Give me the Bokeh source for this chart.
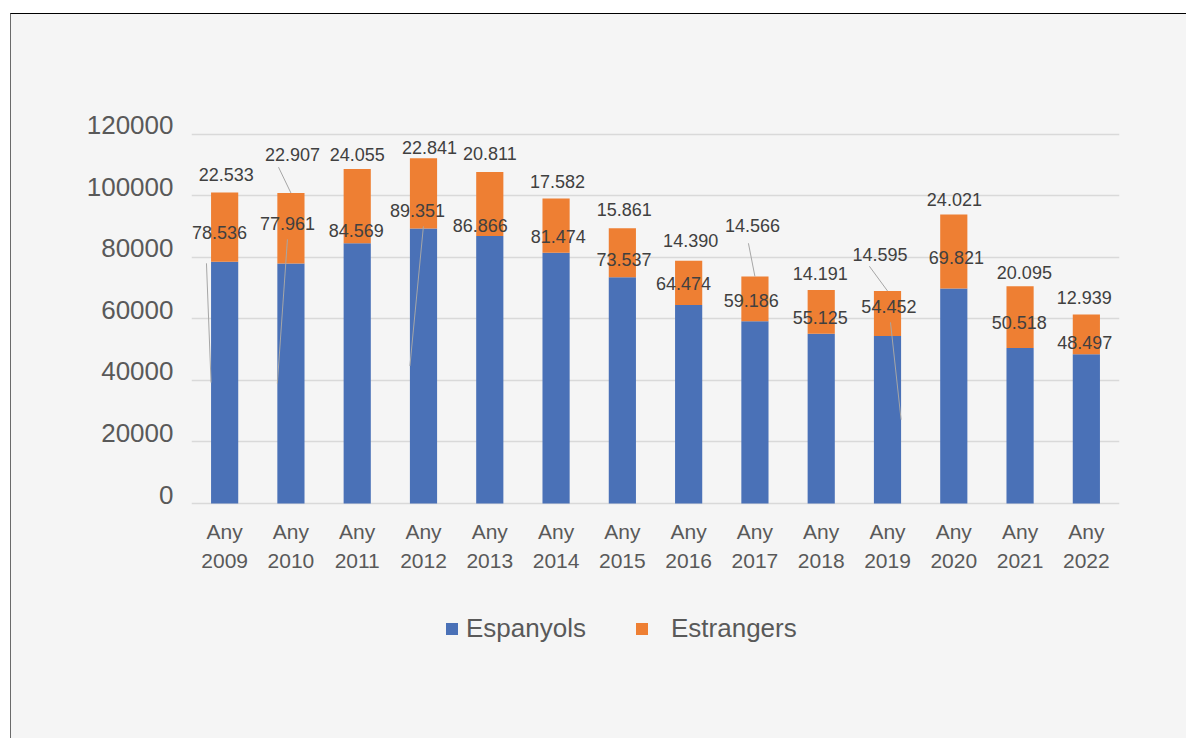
from bokeh.plotting import figure
from bokeh.models import (ColumnDataSource, FixedTicker, NumeralTickFormatter, Range1d,
                          Legend, LegendItem, LinearAxis, Grid)
from bokeh.core.properties import value
from bokeh.embed import file_html
from bokeh.resources import INLINE

# ---------------- data ----------------
years = [2009, 2010, 2011, 2012, 2013, 2014, 2015, 2016, 2017, 2018, 2019, 2020, 2021, 2022]
categories = [f"Any\n{y}" for y in years]
espanyols = [78536, 77961, 84569, 89351, 86866, 81474, 73537, 64474, 59186, 55125, 54452, 69821, 50518, 48497]
estrangers = [22533, 22907, 24055, 22841, 20811, 17582, 15861, 14390, 14566, 14191, 14595, 24021, 20095, 12939]
y_ticks = [0, 20000, 40000, 60000, 80000, 100000, 120000]
series_names = ["Espanyols", "Estrangers"]

# ------------- label placement (screen px) -------------
est_dx = [1.7, 1.6, 0, 6, 0, 1.5, 2, 2, -2.5, -1, -7.4, 0.6, 4.3, -2.2]
est_up = [18.2, 38.8, 14.5, 11, 18.6, 17.4, 19, 20.5, 51.2, 16.9, 36.7, 15.4, 13.2, 16.8]
esp_dx = [-5.1, -3.4, -0.9, -6, -9.6, 2.2, 1.6, -5.2, -3.7, -1, 1.4, 2.6, -0.9, -1.5]
esp_up = [29.5, 40.3, 12.2, 18.2, 10.9, 16.5, 17.9, 22, 21, 16.8, 28.9, 31, 25, 11.6]
# leader lines: (series, index, anchor, start dx px, start up px)
leaders = [("esp", 0, "left", -4.6, 119.3), ("esp", 1, "left", 10.1, 144.1),
           ("esp", 3, "left", 13.5, 139.6), ("esp", 10, "right", -10.6, 97.3),
           ("est", 1, "top", -12.4, 25.8), ("est", 8, "top", -6.5, 33.2),
           ("est", 10, "top", -18.1, 24.7)]

# ------------- layout / styling -------------
BLUE = "#4a71b7"
ORANGE = "#ee7f33"
BG = "#f5f5f5"
FONT = "Liberation Sans"
ML, MR, MT, MB = 180, 67, 58, 74
FW = 928
PX_ABOVE0, PX_BELOW0 = 431, 161      # frame extends below zero to host the legend
FH = PX_ABOVE0 + PX_BELOW0
PX_PER_UNIT = 369.4 / 120000
Y_END = PX_ABOVE0 / PX_PER_UNIT
Y_START = -PX_BELOW0 / PX_PER_UNIT
BAR_W = 0.41
LABEL_SHIFT_PX = 9

def fmt(v):
    return f"{v:,}".replace(",", ".")

xs = list(range(len(years)))
src = ColumnDataSource(dict(x=xs, esp=espanyols, est=estrangers))

p = figure(frame_width=FW, frame_height=FH, output_backend="svg", toolbar_location=None,
           x_range=Range1d(-0.5, len(years) - 0.5), y_range=Range1d(Y_START, Y_END),
           x_axis_location=None, y_axis_location=None,
           min_border_left=ML, min_border_top=MT, min_border_right=MR, min_border_bottom=MB,
           background_fill_color=BG, border_fill_color=BG, outline_line_color=None)
p.margin = (13, 0, 0, 10)
p.styles = {"border-top": "1px solid #000000", "border-left": "1px solid #6a6a6a",
            "background-color": BG}
# drop the default grids; a horizontal grid is added below
p.center = [c for c in p.center if not isinstance(c, Grid)]

px_x = FW / len(years)

rs = p.vbar_stack(["esp", "est"], x="x", width=BAR_W, source=src,
                  color=[BLUE, ORANGE], line_color=None)

# x axis sits at y = 0
xax = LinearAxis(fixed_location=0, ticker=FixedTicker(ticks=xs),
                 major_label_overrides={i: c for i, c in zip(xs, categories)},
                 major_label_text_font=FONT, major_label_text_font_size="21px",
                 major_label_text_color="#595959", major_label_text_line_height=1.27,
                 major_label_standoff=16, axis_line_color=None,
                 major_tick_line_color=None, minor_tick_line_color=None,
                 major_tick_out=0, major_tick_in=0)
p.add_layout(xax, "below")

# y axis: labels sit slightly above their gridlines, as in the reference
d = LABEL_SHIFT_PX / PX_PER_UNIT
p.extra_y_ranges = {"lab": Range1d(Y_START - d, Y_END - d)}
yax = LinearAxis(y_range_name="lab", ticker=FixedTicker(ticks=y_ticks),
                 formatter=NumeralTickFormatter(format="0"),
                 major_label_text_font=FONT, major_label_text_font_size="26px",
                 major_label_text_color="#595959", major_label_standoff=18,
                 axis_line_color=None, major_tick_line_color=None,
                 minor_tick_line_color=None, major_tick_out=0, major_tick_in=0)
p.add_layout(yax, "left")
p.add_layout(Grid(dimension=1, ticker=FixedTicker(ticks=y_ticks),
                  grid_line_color="#d9d9d9", grid_line_width=1.5), "center")

# leader lines
x0, y0, x1, y1 = [], [], [], []
for ser, i, anchor, dxp, dup in leaders:
    ey = espanyols[i] / 2 if ser == "esp" else espanyols[i] + estrangers[i]
    ex = {"left": i - BAR_W / 2, "right": i + BAR_W / 2, "top": i}[anchor]
    x1.append(ex); y1.append(ey)
    x0.append(ex + dxp / px_x); y0.append(ey + dup / PX_PER_UNIT)
p.segment(x0=x0, y0=y0, x1=x1, y1=y1, line_color="#a6a6a6", line_width=1)

# data labels
lab_src = ColumnDataSource(dict(
    x=xs + xs,
    y=espanyols + [a + b for a, b in zip(espanyols, estrangers)],
    t=[fmt(v) for v in espanyols] + [fmt(v) for v in estrangers],
    dx=esp_dx + est_dx,
    dy=[-u for u in esp_up] + [-u for u in est_up],
))
p.text(x="x", y="y", text="t", x_offset="dx", y_offset="dy", source=lab_src,
       text_font=value(FONT), text_font_size="18px", text_color="#404040",
       text_align="center", text_baseline="middle")

# legends (inside the extended frame, below the category labels)
for name, r, lx, stand in [(series_names[0], rs[0], 253, 7),
                           (series_names[1], rs[1], 443, 22)]:
    lg = Legend(items=[LegendItem(label=name, renderers=[r])],
                location=(lx, 20), orientation="horizontal",
                glyph_width=15, glyph_height=15, label_standoff=stand,
                label_height=30, padding=0, margin=0, spacing=0,
                border_line_color=None, background_fill_alpha=0,
                label_text_font=FONT, label_text_font_size="26px",
                label_text_color="#595959")
    p.add_layout(lg, "center")

open("out.html", "w").write(file_html(p, INLINE))
